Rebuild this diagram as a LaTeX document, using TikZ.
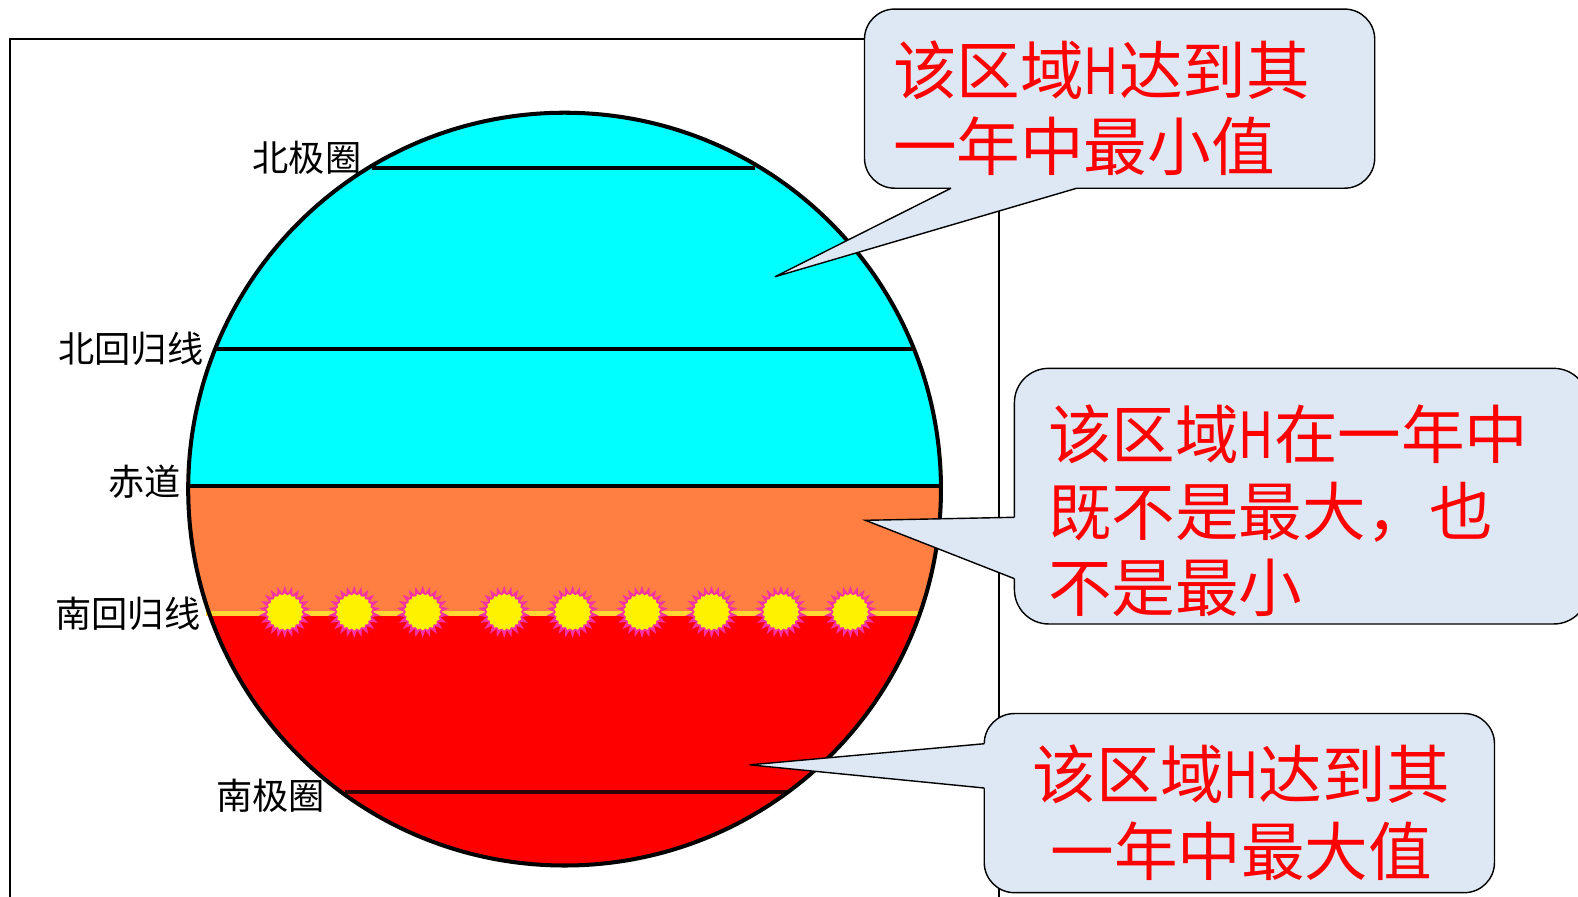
\documentclass[tikz,border=0pt]{standalone}
\usepackage{fontspec}
\usepackage{graphicx}
\setmainfont{Noto Sans CJK SC}
\usetikzlibrary{shapes.geometric}
\definecolor{bubblefill}{RGB}{222,232,245}
\definecolor{bandorange}{RGB}{255,127,66}
\definecolor{sunline}{RGB}{255,214,50}
\definecolor{sunrim}{RGB}{245,50,165}
\definecolor{polarcyan}{RGB}{0,255,255}
\newcommand{\narrowH}{\scalebox{0.76}[1]{H}}
\tikzset{
  x=0.5pt,y=-0.5pt,
  bubble/.style={draw=black,line width=0.7pt,fill=bubblefill},
  tailfill/.style={fill=bubblefill,draw=none},
  tailedge/.style={draw=black,line width=0.7pt,line join=miter},
  bubbletext/.style={text=red,font=\fontsize{31.6}{38}\selectfont,anchor=north west,inner sep=0pt,align=left},
  lat/.style={font=\fontsize{18}{20}\selectfont,text=black,inner sep=0pt},
  parallel/.style={draw=black,line width=2pt},
  sunstar/.style={star,star points=22,star point ratio=1.42,fill=sunrim,draw=none,inner sep=0pt,minimum size=26pt},
  sundisc/.style={star,star points=22,star point ratio=1.12,fill=yellow,draw=none,inner sep=0pt,minimum size=18.5pt},
}
\begin{document}
\begin{tikzpicture}
\useasboundingbox (0,0) rectangle (1568,891.3);
\clip (0,0) rectangle (1568,891.3);
\fill[white] (0,0) rectangle (1568,891.3);
% frame
\draw[black,line width=0.9pt] (10,910) -- (10,39) -- (993,39) -- (993,910);
% globe
\begin{scope}
\clip (561,486) circle[radius=374];
\fill[polarcyan] (150,100) rectangle (970,483);
\fill[bandorange] (150,483) rectangle (970,610);
\fill[red] (150,610) rectangle (970,870);
\end{scope}
\coordinate (ncL) at (370,167); \coordinate (ncR) at (750,167);
\coordinate (ntL) at (213,347); \coordinate (ntR) at (908,347);
\coordinate (eqL) at (187,483); \coordinate (eqR) at (935,483);
\coordinate (stL) at (205,609.5); \coordinate (stR) at (912,609.5);
\coordinate (scL) at (343,787); \coordinate (scR) at (782,787);
\draw[parallel] (ncL) -- (ncR);
\draw[parallel] (ntL) -- (ntR);
\draw[parallel] (eqL) -- (eqR);
\draw[parallel,draw=sunline,line width=2.6pt] (stL) -- (stR);
\draw[parallel,draw=black!80!red] (scL) -- (scR);
\draw[black,line width=2pt] (561,486) circle[radius=374];
% suns
\foreach \i/\sx in {1/283,2/352,3/420,4/501,5/569,6/638,7/707,8/776,9/845}{
  \node[sunstar] (star\i) at (\sx,608) {};
  \node[sundisc] (disc\i) at (\sx,608) {};
}
% latitude labels
\node[lat] (lnc) at (305,157) {北极圈};
\node[lat] (lnt) at (130,347) {北回归线};
\node[lat] (leq) at (144,479) {赤道};
\node[lat] (lst) at (127,610) {南回归线};
\node[lat] (lsc) at (269,791) {南极圈};
% callouts
\draw[bubble,rounded corners=15pt] (859,9) rectangle (1366,187);
\fill[tailfill] (945,184) -- (945,187) -- (770,275) -- (1070,187) -- (1070,184) -- cycle;
\draw[tailedge] (945,187) -- (770,275) -- (1070,187);
\draw[bubble,rounded corners=17pt] (1008,366) rectangle (1578,620);
\fill[tailfill] (1011,514) -- (1008,514) -- (860,517) -- (1008,575) -- (1011,575) -- cycle;
\draw[tailedge] (1008,514) -- (860,517) -- (1008,575);
\draw[bubble,rounded corners=15pt] (978,709) rectangle (1485,887);
\fill[tailfill] (981,739) -- (978,739) -- (745,760) -- (978,783) -- (981,783) -- cycle;
\draw[tailedge] (978,739) -- (745,760) -- (978,783);
\node[bubbletext] (t1) at (887,40) {该区域\narrowH 达到其\\一年中最小值};
\node[bubbletext] (t2) at (1041,402) {该区域\narrowH 在一年中\\既不是最大，也\\不是最小};
\node[bubbletext,align=center] (t3) at (1026,740) {该区域\narrowH 达到其\\一年中最大值};
\end{tikzpicture}
\end{document}
